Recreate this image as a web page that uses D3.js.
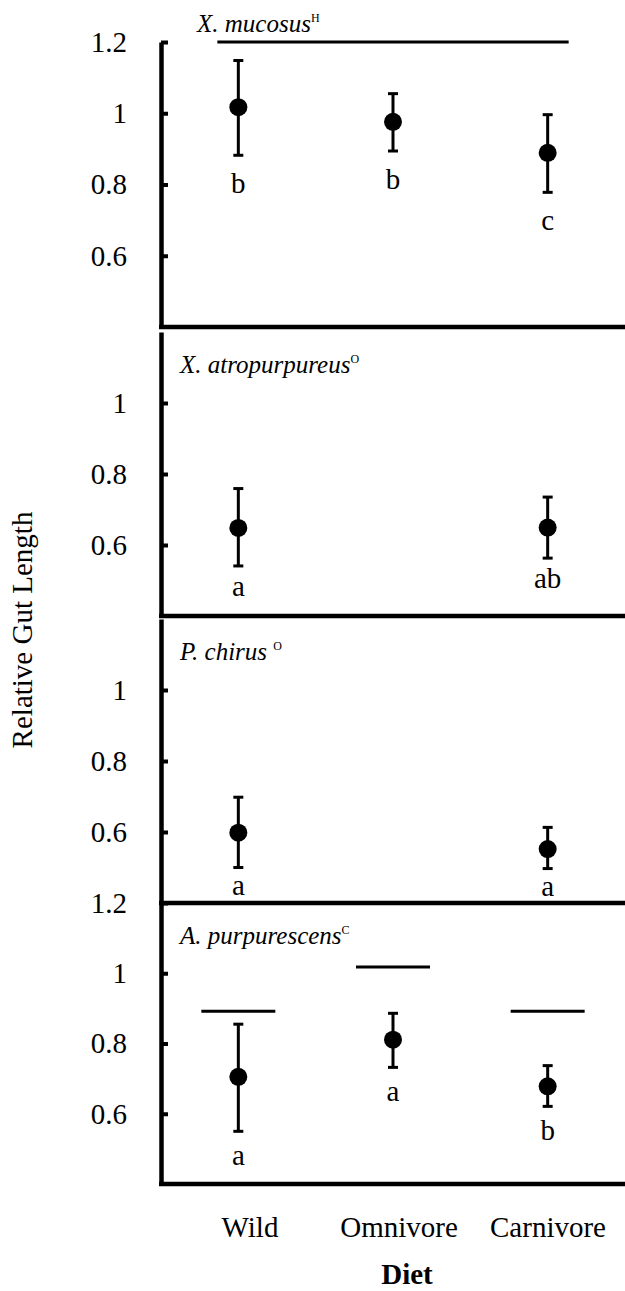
<!DOCTYPE html>
<html>
<head>
<meta charset="utf-8">
<script src="https://cdn.jsdelivr.net/npm/d3@7"></script>
<style>
  body { margin: 0; background: #fff; }
  svg text { font-family: "Liberation Serif", "Times New Roman", serif; fill: #000; }
</style>
</head>
<body>
<div id="chart"></div>
<script>
// values
const diets = ["Wild", "Omnivore", "Carnivore"];
const species = ["X. mucosus", "X. atropurpureus", "P. chirus", "A. purpurescens"];
const dietClass = ["H", "O", "O", "C"];

const means = [
  [1.017, 0.976, 0.889],
  [0.648, null, 0.649],
  [0.598, null, 0.552],
  [0.705, 0.811, 0.678]
];
const lower = [
  [0.882, 0.894, 0.778],
  [0.541, null, 0.563],
  [0.500, null, 0.497],
  [0.550, 0.732, 0.621]
];
const upper = [
  [1.148, 1.055, 0.996],
  [0.759, null, 0.735],
  [0.698, null, 0.613],
  [0.855, 0.886, 0.737]
];
const letters = [
  ["b", "b", "c"],
  ["a", null, "ab"],
  ["a", null, "a"],
  ["a", "a", "b"]
];
const yTicks = [
  [1.2, 1, 0.8, 0.6],
  [1, 0.8, 0.6],
  [1, 0.8, 0.6],
  [1.2, 1, 0.8, 0.6]
];
// horizontal bars above the groups
const sigLines = [
  { panel: 0, from: "Wild", to: "Carnivore", value: 1.2 },
  { panel: 3, from: "Wild", to: "Wild", value: 0.892 },
  { panel: 3, from: "Omnivore", to: "Omnivore", value: 1.018 },
  { panel: 3, from: "Carnivore", to: "Carnivore", value: 0.892 }
];

const width = 625, height = 1291;
const axisX = 161, plotRight = 625;
const panelTop = [42, 332, 619, 903];
const panelBottom = [327, 616, 903, 1184];
const letterGap = [38, 30, 27, 34];

const svg = d3.select("#chart")
  .append("svg")
  .attr("width", width)
  .attr("height", height);

const x = d3.scalePoint()
  .domain(diets)
  .range([axisX, plotRight])
  .padding(0.5);

const xLabel = d3.scalePoint()
  .domain(diets)
  .range([250, 548]);

species.forEach((name, i) => {
  const y = d3.scaleLinear()
    .domain([0.4, 1.2])
    .range([panelBottom[i], panelTop[i]]);

  const g = svg.append("g").attr("class", "panel");

  // bottom axis line of the panel
  g.append("line")
    .attr("x1", axisX - 2)
    .attr("x2", plotRight)
    .attr("y1", y(0.4))
    .attr("y2", y(0.4))
    .attr("stroke", "#000")
    .attr("stroke-width", 4.5);

  const yAxis = g.append("g")
    .attr("transform", `translate(${axisX},0)`)
    .call(
      d3.axisLeft(y)
        .tickValues(yTicks[i])
        .tickFormat(d3.format("~g"))
        .tickSizeInner(-7)
        .tickSizeOuter(0)
        .tickPadding(34)
    );
  yAxis.attr("font-family", null).attr("font-size", 29);
  yAxis.select(".domain").attr("stroke-width", 4.5);
  yAxis.selectAll(".tick line").attr("stroke-width", 4);

  const pts = diets
    .map((d, j) => ({
      diet: d,
      mean: means[i][j],
      lo: lower[i][j],
      hi: upper[i][j],
      letter: letters[i][j]
    }))
    .filter((d) => d.mean !== null);

  g.selectAll(".err")
    .data(pts)
    .join("line")
    .attr("class", "err")
    .attr("x1", (d) => x(d.diet))
    .attr("x2", (d) => x(d.diet))
    .attr("y1", (d) => y(d.lo))
    .attr("y2", (d) => y(d.hi))
    .attr("stroke", "#000")
    .attr("stroke-width", 3);

  ["lo", "hi"].forEach((k) => {
    g.selectAll(".cap-" + k)
      .data(pts)
      .join("line")
      .attr("class", "cap-" + k)
      .attr("x1", (d) => x(d.diet) - 5)
      .attr("x2", (d) => x(d.diet) + 5)
      .attr("y1", (d) => y(d[k]))
      .attr("y2", (d) => y(d[k]))
      .attr("stroke", "#000")
      .attr("stroke-width", 3);
  });

  g.selectAll(".dot")
    .data(pts)
    .join("circle")
    .attr("class", "dot")
    .attr("cx", (d) => x(d.diet))
    .attr("cy", (d) => y(d.mean))
    .attr("r", 9)
    .attr("fill", "#000");

  g.selectAll(".letter")
    .data(pts)
    .join("text")
    .attr("class", "letter")
    .attr("x", (d) => x(d.diet))
    .attr("y", (d) => y(d.lo) + letterGap[i])
    .attr("text-anchor", "middle")
    .attr("font-size", 29)
    .text((d) => d.letter);

  // species title, the first one sits above its panel
  const title = g.append("text")
    .attr("x", i === 0 ? 197 : 180)
    .attr("y", i === 0 ? panelTop[i] - 10 : panelTop[i] + 41)
    .attr("font-size", 25)
    .attr("font-style", "italic")
    .text(name + (name === "P. chirus" ? " " : ""));
  title.append("tspan")
    .attr("dy", -10)
    .attr("font-size", 12)
    .attr("font-style", "normal")
    .text(dietClass[i]);

  g.selectAll(".sig")
    .data(sigLines.filter((d) => d.panel === i))
    .join("line")
    .attr("class", "sig")
    .attr("x1", (d) => x(d.from) - (d.from === d.to ? 37 : 21))
    .attr("x2", (d) => x(d.to) + (d.from === d.to ? 37 : 21))
    .attr("y1", (d) => y(d.value))
    .attr("y2", (d) => y(d.value))
    .attr("stroke", "#000")
    .attr("stroke-width", 3);
});

// category labels
svg.selectAll(".cat")
  .data(diets)
  .join("text")
  .attr("class", "cat")
  .attr("x", (d) => xLabel(d))
  .attr("y", 1237)
  .attr("text-anchor", "middle")
  .attr("font-size", 29)
  .text((d) => d);

svg.append("text")
  .attr("x", 407)
  .attr("y", 1284)
  .attr("text-anchor", "middle")
  .attr("font-size", 29)
  .attr("font-weight", "bold")
  .text("Diet");

svg.append("text")
  .attr("transform", "translate(32,630) rotate(-90)")
  .attr("text-anchor", "middle")
  .attr("font-size", 29)
  .text("Relative Gut Length");
</script>
</body>
</html>
